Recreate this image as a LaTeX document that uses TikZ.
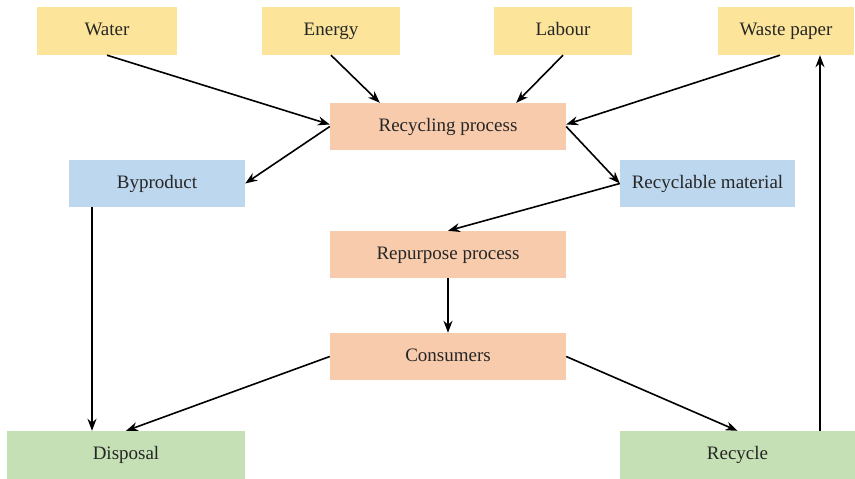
\documentclass[tikz,border=0pt]{standalone}
\usepackage{fontspec}
\setmainfont{Liberation Serif}
\usetikzlibrary{arrows.meta,calc}
\definecolor{cyel}{HTML}{FCE59A}
\definecolor{corg}{HTML}{F8CBAD}
\definecolor{cblu}{HTML}{BDD7EE}
\definecolor{cgrn}{HTML}{C5E0B4}
\tikzset{
  box/.style={rectangle, draw=none, inner sep=0pt, text=black!85,
    text height=13pt, text depth=4pt,
    font=\fontsize{19}{22}\selectfont},
  ybox/.style={box, fill=cyel, minimum width=140pt, minimum height=48pt},
  obox/.style={box, fill=corg, minimum width=236pt, minimum height=47pt},
  bbox/.style={box, fill=cblu, minimum width=176pt, minimum height=47pt},
  gbox/.style={box, fill=cgrn, minimum width=238pt, minimum height=48pt},
  arr/.style={-{Stealth[length=12pt,width=9pt]}, line width=1.6pt, black}
}
\begin{document}
\begin{tikzpicture}[x=1pt,y=-1pt]
\useasboundingbox (0,0) rectangle (855,479);
\node[ybox] (water) at (107,31) {Water};
\node[ybox, minimum width=138pt] (energy) at (331,31) {Energy};
\node[ybox, minimum width=138pt] (labour) at (563,31) {Labour};
\node[ybox, minimum width=136pt] (waste) at (786,31) {Waste paper};
\node[obox] (recp) at (448,126.5) {Recycling process};
\node[bbox] (byp) at (157,183.5) {Byproduct};
\node[bbox, minimum width=175pt] (recm) at (707.5,183.5) {Recyclable material};
\node[obox] (rep) at (448,254.5) {Repurpose process};
\node[obox] (cons) at (448,356.5) {Consumers};
\node[gbox] (disp) at (126,455) {Disposal};
\node[gbox, minimum width=235pt] (recy) at (737.5,455) {Recycle};

\draw[arr] (water.south) -- ($(recp.west)+(0,-2)$);
\draw[arr] (energy.south) -- ($(recp.north west)+(50,0)$);
\draw[arr] (labour.south) -- ($(recp.north east)+(-50,0)$);
\draw[arr] ($(waste.south)+(-6,0)$) -- ($(recp.east)+(0,-2)$);
\draw[arr] (recp.west) -- (byp.east);
\draw[arr] (recp.east) -- (recm.west);
\draw[arr] (recm.west) -- (rep.north);
\draw[arr] (rep.south) -- (cons.north);
\draw[arr] (cons.west) -- (disp.north);
\draw[arr] (cons.east) -- (recy.north);
\draw[arr] (byp.south -| 92,0) -- (disp.north -| 92,0);
\draw[arr] (recy.north -| 820,0) -- (waste.south -| 820,0);
\end{tikzpicture}
\end{document}
